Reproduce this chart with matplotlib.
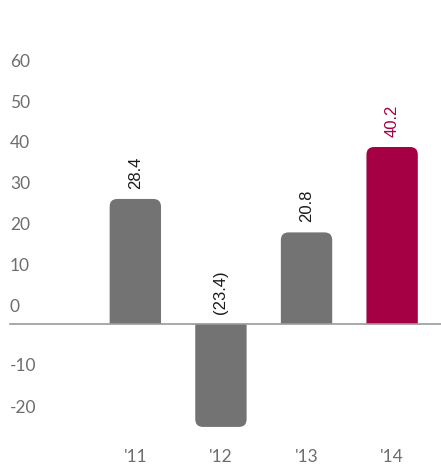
import matplotlib
matplotlib.use('Agg')
import matplotlib.pyplot as plt
from matplotlib.patches import PathPatch
from matplotlib.path import Path

years = ["'11", "'12", "'13", "'14"]
values = [28.4, -23.4, 20.8, 40.2]
value_labels = ['28.4', '(23.4)', '20.8', '40.2']
bar_colors = ['#737373', '#737373', '#737373', '#a50044']
label_colors = ['#1a1a1a', '#1a1a1a', '#1a1a1a', '#a50044']
y_ticks = [60, 50, 40, 30, 20, 10, 0, -10, -20]

plt.rcParams['font.family'] = ['Lato', 'DejaVu Sans']

fig = plt.figure(figsize=(4.41, 4.65), dpi=100)
ax = fig.add_axes([0, 0, 1, 1])
ax.set_xlim(-1.581, 3.571)
ax.set_ylim(-32.05, 73.6)
ax.axis('off')

x = list(range(len(years)))
width = 0.6
bars = ax.bar(x, values, width, color=bar_colors)


def rounded_bar(x0, w, h, rx, ry):
    # square at the baseline, rounded corners at the far end
    s = 1 if h >= 0 else -1
    x1 = x0 + w
    verts = [(x0, 0), (x0, h - s * ry), (x0, h), (x0 + rx, h),
             (x1 - rx, h), (x1, h), (x1, h - s * ry), (x1, 0), (x0, 0)]
    codes = [Path.MOVETO, Path.LINETO, Path.CURVE3, Path.CURVE3,
             Path.LINETO, Path.CURVE3, Path.CURVE3, Path.LINETO, Path.CLOSEPOLY]
    return Path(verts, codes)


for rect, c in zip(bars, bar_colors):
    rect.set_visible(False)
    p = rounded_bar(rect.get_x(), rect.get_width(), rect.get_height(),
                    0.09, 0.09 * 85.6 / 4.4)
    ax.add_patch(PathPatch(p, fc=c, ec='none'))

# baseline
ax.axhline(0, xmin=10 / 441, xmax=1, color='#9a9a9a', lw=1.2, zorder=3)

# value labels, rotated above the bars (or above the baseline for losses)
for xi, v, txt, c in zip(x, values, value_labels, label_colors):
    ypos = (v if v > 0 else 0) + 2.3
    ax.text(xi, ypos, txt, rotation=90, ha='center', va='bottom',
            fontsize=12, color=c, family='Liberation Sans')


# y labels sit a little above their gridline values
def label_pos(v):
    if v >= 0:
        return 3.9 + v * 0.928
    return -0.1 + v * 0.95


for v in y_ticks:
    ax.text(10 / 85.6 - 1.581, label_pos(v), str(v), ha='left', va='center',
            fontsize=12.5, color='#6e6e6e')

for xi, yr in zip(x, years):
    ax.text(xi, -30.2, yr, ha='center', va='center', fontsize=12.5,
            color='#6e6e6e')

fig.savefig('out.png', dpi=100)
